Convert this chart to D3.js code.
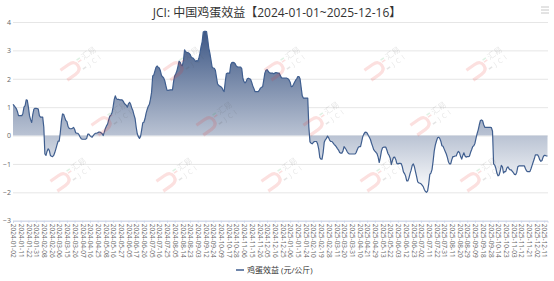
<!DOCTYPE html>
<html><head><meta charset="utf-8">
<script src="https://cdn.jsdelivr.net/npm/d3@7/dist/d3.min.js"></script>
<style>
html,body{margin:0;padding:0;background:#fff;}
svg{display:block;font-family:"Open Sans","Noto Sans CJK SC",sans-serif;}
</style></head>
<body><svg id="c" width="554" height="281"></svg>
<script>
const title = "JCI: 中国鸡蛋效益【2024-01-01~2025-12-16】";
const seriesName = "鸡蛋效益 (元/公斤)";
const tickLabels = ["2024-01-02","2024-01-11","2024-01-22","2024-01-31","2024-02-08","2024-02-26","2024-03-06","2024-03-15","2024-03-26","2024-04-07","2024-04-16","2024-04-25","2024-05-08","2024-05-16","2024-05-27","2024-06-05","2024-06-17","2024-06-26","2024-07-05","2024-07-16","2024-07-25","2024-08-05","2024-08-14","2024-08-23","2024-09-03","2024-09-12","2024-09-24","2024-10-09","2024-10-17","2024-10-28","2024-11-06","2024-11-15","2024-11-26","2024-12-05","2024-12-16","2024-12-25","2025-01-06","2025-01-15","2025-01-24","2025-02-10","2025-02-19","2025-02-28","2025-03-11","2025-03-20","2025-03-31","2025-04-10","2025-04-21","2025-04-29","2025-05-13","2025-05-22","2025-06-03","2025-06-12","2025-06-23","2025-07-02","2025-07-11","2025-07-22","2025-07-31","2025-08-11","2025-08-20","2025-08-29","2025-09-09","2025-09-18","2025-09-28","2025-10-14","2025-10-23","2025-11-03","2025-11-12","2025-11-21","2025-12-02","2025-12-11"];
const labelStep = 7;
const yTicks = [-3,-2,-1,0,1,2,3,4];
// daily values (trading days), 2024-01-02 .. 2025-12-16
const values = [
1.1,1.05,1.0,0.95,0.85,0.7,0.7,0.7,0.7,0.78,1.0,1.05,1.26,1.24,1.0,0.7,0.56,0.46,0.75,0.93,
0.96,0.96,0.95,0.93,0.7,0.65,0.65,0.65,0.3,-0.65,-0.7,-0.55,-0.47,-0.52,-0.7,-0.73,-0.74,-0.7,-0.6,-0.47,
-0.33,-0.2,-0.2,0.1,0.5,0.76,0.75,0.64,0.53,0.5,0.33,0.26,0.24,0.24,0.25,0.29,0.22,0.1,0.08,0.08,
0.03,-0.05,-0.11,-0.13,-0.13,-0.13,-0.13,-0.1,0.05,0.05,0.0,-0.04,-0.06,0.0,0.05,0.08,0.08,0.1,0.12,0.12,
0.1,0.07,0.0,0.12,0.25,0.34,0.4,0.55,0.68,0.72,0.8,1.0,1.26,1.4,1.3,1.27,1.28,1.26,1.26,1.26,
1.22,1.15,1.1,1.07,1.0,1.12,1.17,1.1,0.97,0.88,0.73,0.6,0.3,0.06,-0.04,-0.1,-0.03,0.2,0.45,0.47,
0.59,0.78,0.92,1.03,1.1,1.28,1.52,2.1,2.13,2.27,2.4,2.45,2.41,2.38,2.28,2.12,2.07,2.03,1.93,1.76,
1.6,1.59,1.6,1.61,1.61,1.61,1.9,2.1,2.18,2.27,2.44,2.62,2.58,2.48,2.46,2.65,3.02,2.95,2.93,2.92,
2.9,2.86,2.77,2.74,2.72,2.67,2.61,2.64,2.62,2.72,2.9,3.13,3.3,3.65,3.67,3.67,3.66,3.4,3.08,2.9,
2.67,2.42,2.38,2.37,2.3,2.06,1.82,1.77,1.74,1.72,1.68,1.6,1.55,1.9,2.18,2.2,2.2,2.2,2.5,2.57,
2.58,2.57,2.53,2.45,2.42,2.41,2.41,2.41,2.36,2.02,1.9,1.86,1.9,2.0,2.02,2.0,1.98,1.88,1.75,1.66,
1.55,1.55,1.55,1.55,1.6,1.67,1.7,1.72,1.95,2.2,2.3,2.32,2.27,2.22,2.2,2.2,2.2,2.18,2.2,2.22,
2.21,2.2,2.2,2.12,2.04,2.02,2.02,2.02,2.02,2.02,2.0,1.96,1.88,1.72,1.73,1.8,1.88,1.95,2.0,2.08,
2.08,2.0,1.7,1.4,1.32,1.32,1.32,1.32,1.32,0.3,-0.22,-0.27,-0.29,-0.25,-0.21,-0.21,-0.21,-0.3,-0.48,-0.78,
-0.83,-0.83,-0.6,-0.24,-0.15,-0.1,-0.02,-0.08,-0.17,-0.21,-0.21,-0.26,-0.31,-0.35,-0.4,-0.46,-0.51,-0.6,-0.62,-0.62,
-0.55,-0.39,-0.44,-0.5,-0.58,-0.63,-0.65,-0.65,-0.65,-0.65,-0.65,-0.65,-0.6,-0.5,-0.41,-0.39,-0.39,-0.22,-0.04,0.05,
0.11,0.12,0.09,0.01,-0.06,-0.14,-0.27,-0.38,-0.5,-0.55,-0.59,-0.64,-0.76,-0.95,-0.78,-0.55,-0.43,-0.41,-0.41,-0.41,
-0.52,-0.64,-0.7,-0.8,-1.02,-0.88,-0.77,-0.76,-0.84,-0.98,-1.0,-0.98,-0.98,-0.99,-1.1,-1.28,-1.34,-1.43,-1.6,-1.6,
-1.5,-1.34,-1.22,-1.05,-1.0,-1.1,-1.28,-1.45,-1.63,-1.67,-1.68,-1.7,-1.75,-1.8,-1.9,-1.97,-2.0,-1.95,-1.7,-1.37,
-1.32,-1.2,-0.9,-0.55,-0.34,-0.2,-0.08,-0.06,-0.1,-0.2,-0.36,-0.38,-0.47,-0.56,-0.65,-0.78,-0.94,-1.0,-1.0,-0.85,
-0.74,-0.74,-0.72,-0.72,-0.62,-0.56,-0.6,-0.74,-0.83,-0.7,-0.61,-0.72,-0.76,-0.74,-0.74,-0.73,-0.6,-0.5,-0.39,-0.36,
-0.28,-0.1,0.07,0.2,0.38,0.53,0.55,0.52,0.38,0.29,0.29,0.29,0.29,0.29,0.29,0.28,0.15,-1.0,-1.04,-1.15,
-1.32,-1.42,-1.39,-1.25,-1.05,-1.1,-1.32,-1.27,-1.27,-1.15,-1.1,-1.17,-1.21,-1.21,-1.26,-1.31,-1.37,-1.38,-1.3,-1.1,
-1.07,-1.07,-1.07,-1.07,-1.07,-1.07,-1.17,-1.25,-1.27,-1.27,-1.27,-1.17,-1.05,-0.93,-0.82,-0.68,-0.68,-0.68,-0.75,-0.86,
-0.91,-0.88,-0.76,-0.7,-0.7,-0.72,-0.72
];
// watermark anchor positions
const wmX = [[77,180,281,381,483],[108,213,320,427],[67,173,278,377,477]];
const wmY = [66,121,177];

const W = 554, H = 281;
const L = 13, R = 547.5, T = 22, B = 220.7;
const svg = d3.select("#c");
const x = d3.scaleLinear().domain([0, values.length - 1]).range([L, R]);
const y = d3.scaleLinear().domain([-3, 4]).range([B, T]);

// title
svg.append("text").attr("x", 277).attr("y", 17).attr("text-anchor", "middle")
  .attr("font-size", 12).attr("fill", "#333").text(title);
// menu icon
const menu = svg.append("g").attr("stroke", "#c8c8c8").attr("stroke-width", 1);
[7, 10, 13].forEach(v => menu.append("line").attr("x1", 541).attr("x2", 549).attr("y1", v).attr("y2", v));

// grid + y labels
const yAxis = svg.append("g").attr("transform", `translate(${L},0)`)
  .call(d3.axisLeft(y).tickValues(yTicks).tickSize(-(R - L + 0.5)).tickPadding(2).tickFormat(d3.format("d")));
yAxis.select(".domain").remove();
yAxis.selectAll(".tick line").attr("stroke", "#e6e6e6").attr("stroke-width", 1);
yAxis.selectAll(".tick text").attr("font-size", 7).attr("fill", "#666").attr("font-family", "Open Sans, sans-serif");

// gradient
const defs = svg.append("defs");
const grad = defs.append("linearGradient").attr("id", "g").attr("gradientUnits", "userSpaceOnUse")
  .attr("x1", 0).attr("x2", 0).attr("y1", y(3.7)).attr("y2", y(-2.05));
grad.append("stop").attr("offset", 0).attr("stop-color", "#3c5684");
grad.append("stop").attr("offset", 1).attr("stop-color", "#ffffff");

const area = d3.area().x((d, i) => x(i)).y0(y(0)).y1(d => y(d));
svg.append("path").datum(values).attr("d", area).attr("fill", "url(#g)");
const line = d3.line().x((d, i) => x(i)).y(d => y(d));
svg.append("path").datum(values).attr("d", line).attr("fill", "none")
  .attr("stroke", "#3f5e8f").attr("stroke-width", 1.2).attr("stroke-linejoin", "round");

// x axis
const xTickVals = tickLabels.map((_, k) => k * labelStep);
const xAxis = svg.append("g").attr("transform", `translate(0,${B})`)
  .call(d3.axisBottom(x).tickValues(xTickVals).tickSize(2).tickFormat((d, k) => tickLabels[k]));
xAxis.select(".domain").attr("stroke", "#ccd6eb");
xAxis.selectAll(".tick line").attr("stroke", "#ccd6eb");
xAxis.selectAll(".tick text").attr("font-size", 6.5).attr("fill", "#666")
  .attr("font-family", "Open Sans, sans-serif")
  .attr("text-anchor", "start").attr("transform", "rotate(90)")
  .attr("x", 3).attr("y", 0).attr("dy", "0.35em");

// watermarks
const wm = svg.append("g").attr("opacity", 0.15).attr("pointer-events", "none");
wmY.forEach((yy, r) => wmX[r].forEach(xx => {
  const g = wm.append("g").attr("transform", `translate(${xx},${yy}) rotate(-35)`);
  g.append("path").attr("d", "M-16,-6 H-6 Q1,-6 1,0 Q1,6 -6,6 H-16").attr("fill", "none")
    .attr("stroke", "#e8312d").attr("stroke-width", 3.2);
  g.append("line").attr("x1", 3).attr("x2", 7).attr("y1", -5).attr("y2", -5).attr("stroke", "#2aa14a").attr("stroke-width", 1.5);
  g.append("line").attr("x1", 3).attr("x2", 7).attr("y1", -2.5).attr("y2", -2.5).attr("stroke", "#e8312d").attr("stroke-width", 1.5);
  g.append("text").attr("x", 9).attr("y", -1).attr("font-size", 8).attr("fill", "#555").text("汇易");
  g.append("line").attr("x1", 3).attr("x2", 7).attr("y1", 6).attr("y2", 6).attr("stroke", "#555").attr("stroke-width", 1.5);
  g.append("text").attr("x", 10).attr("y", 8).attr("font-size", 7).attr("letter-spacing", 3).attr("fill", "#555").text("JCI");
}));

// legend
const lg = svg.append("g");
lg.append("line").attr("x1", 236).attr("x2", 244).attr("y1", 270).attr("y2", 270)
  .attr("stroke", "#3f5e8f").attr("stroke-width", 1.5);
lg.append("text").attr("x", 247).attr("y", 273).attr("font-size", 8).attr("fill", "#333").text(seriesName);
</script></body></html>
